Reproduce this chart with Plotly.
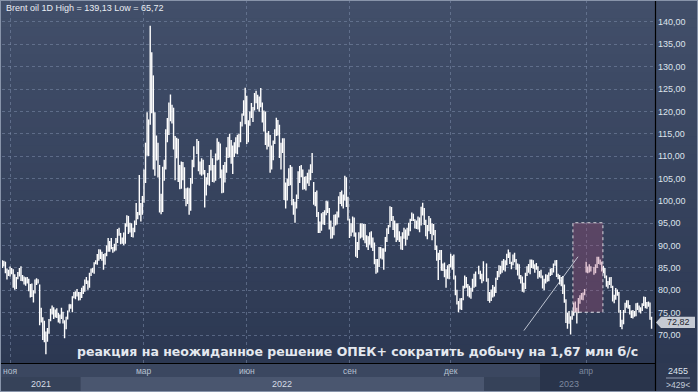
import plotly.graph_objects as go
import pandas as pd

# ---------------- data (Brent, daily OHLC) ----------------
open_ = [
    85.5, 86.0, 86.3, 84.5, 84.3,
    84.0, 84.7, 84.6, 81.4, 80.8, 82.9, 83.5, 84.8, 82.5, 82.9, 82.0, 82.1, 82.3, 80.3, 81.2, 79.0, 79.6, 82.3, 82.3, 81.2, 73.8, 73.1,
    70.5, 68.8, 70.1, 70.5, 73.3, 75.4, 75.8, 74.4, 75.3, 74.5, 73.7, 74.0, 75.0, 72.6, 71.8, 73.9, 75.5, 76.8, 76.0, 78.7, 78.8, 79.3, 79.3,
    78.0, 79.0, 80.1, 80.6, 82.1, 81.7, 80.9, 83.7, 84.6, 84.4, 86.2, 86.5, 87.5, 88.4, 88.4, 87.9, 86.1, 88.3, 90.0, 89.4, 90.0,
    89.3, 89.2, 89.5, 91.1, 93.3, 92.7, 90.8, 91.6, 91.4, 94.5, 96.5, 93.3, 94.8, 93.0, 93.5, 95.4, 96.8, 97.0, 99.1, 98.0,
    101.0, 105.0, 112.9, 110.5, 118.1, 123.2, 128.0, 111.1, 109.3, 112.7, 106.9, 99.9, 98.0, 106.6, 107.9, 115.6, 115.5, 121.6, 119.0, 120.7, 112.5, 110.2, 113.5,
    107.9, 104.4, 107.5, 106.6, 101.1, 100.6, 102.8, 98.5, 104.6, 108.8, 111.7, 113.2, 107.3, 106.8, 108.3, 106.7, 102.3, 105.0, 105.3, 107.6,
    109.3, 107.6, 105.0, 110.1, 111.9, 112.4, 105.9, 102.5, 107.5, 107.5, 111.6, 114.2, 111.9, 109.1, 112.0, 112.6, 113.4, 113.6, 114.0, 117.4, 119.4, 121.7,
    122.8, 116.3, 117.6, 119.7, 119.5, 120.6, 123.6, 123.1, 122.0, 122.3, 121.2, 118.5, 119.8, 113.1, 114.1, 114.7, 111.7, 110.1, 113.1, 115.1, 118.0, 116.3,
    109.0, 111.6, 113.5, 102.8, 100.7, 104.6, 107.0, 107.1, 99.5, 99.6, 99.1, 101.2, 106.3, 107.4, 106.9, 103.9, 103.2, 105.2, 104.4, 106.6, 107.1,
    103.9, 100.0, 100.5, 96.8, 94.1, 94.9, 96.7, 96.3, 97.4, 99.6, 98.2, 95.1, 92.3, 93.7, 96.6, 96.7, 96.5, 100.2, 101.2, 99.3, 101.0, 105.1, 99.3,
    94.5, 92.4, 93.0, 95.7, 92.8, 88.0, 89.2, 92.8, 94.0, 93.2, 94.1, 90.8, 91.4, 92.0, 90.6, 89.8, 90.5, 86.2, 84.1, 86.3, 89.3, 88.5,
    85.2, 88.9, 91.8, 93.4, 94.4, 97.9, 96.2, 94.3, 92.5, 94.6, 91.6, 91.6, 90.0, 92.4, 92.4, 93.5, 93.3, 93.5, 95.7, 97.0, 95.8,
    94.8, 94.7, 96.2, 94.7, 98.6, 97.9, 95.4, 92.7, 93.7, 96.0, 93.1, 93.9, 92.9, 89.8, 87.6, 87.5, 88.4, 85.4, 85.3, 83.6, 83.2, 83.0,
    85.4, 86.9, 85.6, 82.7, 79.4, 77.2, 76.2, 76.1, 78.0, 80.7, 82.7, 81.2, 79.0, 79.8, 80.0, 82.2, 81.0, 83.9, 84.3, 83.3, 82.3,
    85.9, 82.1, 77.8, 78.7, 78.6, 79.7, 80.1, 82.7, 84.0, 85.3, 84.5, 85.9, 85.0, 86.2, 87.6, 88.2, 86.1, 86.1, 87.5, 86.7, 84.9,
    85.5, 82.8, 82.2, 79.9, 81.0, 83.7, 85.1, 84.5, 86.4, 86.6, 85.6, 85.4, 85.1, 83.0, 84.1, 83.1, 80.6, 82.2, 83.2, 82.5,
    83.9, 84.3, 84.8, 85.8, 86.2, 83.3, 82.7, 81.6, 82.8, 80.8, 77.5, 73.7, 74.7, 73.0, 73.8, 75.3, 76.7, 75.9, 75.0, 78.1, 78.7, 78.3, 79.3,
    85.0, 84.9, 84.9, 85.0, 85.1, 84.2, 85.6, 87.3, 86.1, 86.3, 84.8, 84.8, 83.1, 81.1, 81.7, 82.7, 80.8, 77.7, 78.4,
    79.5, 79.3, 75.3, 72.3, 72.5, 75.3, 77.0, 77.4, 76.4, 75.0, 74.2, 75.2, 74.9, 77.0, 75.9, 75.6, 76.0, 76.8, 78.4, 76.3, 77.0, 77.1, 73.5,
]
high = [
    86.7, 86.6, 86.4, 84.9, 84.6,
    85.3, 85.0, 84.7, 83.6, 83.0, 84.1, 85.0, 85.4, 83.4, 83.1, 82.9, 83.0, 82.6, 81.4, 81.5, 80.0, 82.4, 82.7, 82.5, 81.3, 76.1, 74.0,
    73.2, 70.8, 71.6, 73.6, 75.9, 76.6, 76.2, 75.7, 76.0, 74.9, 74.6, 76.1, 75.2, 73.3, 74.1, 75.5, 76.9, 76.9, 78.7, 79.6, 79.8, 80.3, 79.6,
    79.6, 80.6, 81.0, 82.4, 83.0, 82.2, 83.9, 84.9, 85.0, 86.3, 86.7, 88.1, 89.2, 89.1, 88.6, 88.1, 88.3, 90.0, 91.7, 91.0, 91.7,
    89.7, 90.4, 91.7, 93.7, 94.0, 92.8, 91.8, 92.9, 95.0, 96.8, 96.6, 95.1, 95.0, 94.0, 95.6, 99.5, 97.5, 105.8, 99.5, 101.1,
    107.0, 113.0, 119.8, 118.2, 139.13, 133.2, 128.0, 119.8, 114.6, 113.0, 108.0, 101.6, 107.6, 109.2, 116.0, 118.5, 122.0, 123.8, 121.5, 120.8, 114.5, 114.1, 113.9,
    108.0, 108.8, 108.7, 107.5, 102.8, 103.0, 102.8, 105.1, 109.2, 112.2, 113.8, 113.4, 108.8, 109.5, 109.2, 106.9, 105.3, 106.2, 108.0, 111.4,
    109.5, 108.0, 110.6, 114.0, 113.2, 112.8, 107.0, 108.0, 108.7, 112.0, 114.3, 115.0, 113.6, 112.4, 113.1, 114.2, 114.8, 115.0, 117.7, 119.5, 122.5, 125.3,
    123.5, 118.0, 120.0, 121.9, 121.0, 124.1, 124.6, 123.7, 123.3, 125.2, 122.0, 120.2, 120.0, 115.2, 115.6, 114.7, 112.4, 113.5, 116.0, 118.6, 118.1, 117.0,
    113.0, 114.0, 114.0, 104.1, 105.0, 107.3, 108.0, 107.6, 100.4, 99.8, 101.4, 106.6, 107.8, 108.0, 107.0, 105.4, 105.5, 106.3, 107.0, 108.2, 110.7,
    104.2, 102.0, 102.3, 97.5, 95.4, 97.2, 97.5, 97.9, 100.0, 99.9, 98.4, 95.6, 94.2, 96.9, 97.0, 97.6, 101.0, 102.0, 102.3, 101.4, 105.6, 105.3, 100.9,
    96.0, 95.0, 96.5, 96.3, 92.9, 90.8, 93.0, 95.0, 95.0, 94.8, 94.8, 92.3, 92.1, 93.0, 93.2, 91.8, 90.7, 87.0, 87.0, 89.7, 89.7, 89.4,
    89.4, 91.9, 93.9, 94.6, 98.8, 98.6, 96.6, 95.6, 95.0, 95.0, 93.2, 92.1, 93.0, 94.0, 93.6, 94.0, 95.1, 96.0, 97.4, 97.1, 95.9,
    95.6, 96.5, 96.3, 98.7, 99.6, 98.4, 95.8, 94.6, 96.6, 96.1, 95.0, 94.8, 93.5, 90.0, 88.4, 89.0, 89.0, 86.0, 86.2, 84.7, 85.6, 85.9,
    88.2, 87.7, 88.0, 83.3, 80.1, 77.6, 78.2, 78.3, 81.0, 83.3, 83.0, 81.4, 81.0, 80.6, 82.6, 83.7, 84.2, 85.5, 84.4, 83.7, 86.5,
    86.0, 82.7, 79.6, 80.2, 81.2, 80.8, 82.8, 84.3, 85.6, 85.5, 86.6, 87.0, 86.7, 88.2, 89.1, 88.5, 86.4, 88.0, 88.4, 87.0, 86.0,
    85.8, 83.4, 83.1, 81.7, 83.9, 85.4, 85.9, 86.9, 86.9, 86.7, 85.8, 86.1, 85.4, 84.3, 84.6, 83.3, 82.6, 83.6, 83.5, 84.0,
    84.9, 85.0, 86.0, 86.7, 86.8, 83.7, 83.4, 83.0, 83.2, 81.3, 78.0, 75.0, 75.4, 74.2, 75.5, 77.2, 77.5, 76.1, 78.3, 78.9, 79.4, 79.5, 80.3,
    86.4, 85.3, 85.8, 85.4, 85.2, 85.8, 87.5, 87.5, 86.9, 86.4, 85.5, 85.0, 83.3, 82.1, 82.9, 83.0, 81.0, 79.0, 80.5,
    80.2, 79.6, 75.6, 73.4, 75.6, 77.2, 77.8, 77.8, 76.7, 75.5, 75.6, 75.4, 77.1, 77.2, 76.6, 76.2, 77.1, 78.6, 78.5, 77.4, 77.5, 77.3, 74.1,
]
low = [
    85.0, 85.3, 83.8, 82.4, 83.2,
    83.1, 83.6, 80.6, 80.1, 80.3, 82.5, 83.1, 82.1, 82.0, 81.3, 81.0, 81.5, 79.8, 78.4, 78.5, 77.3, 79.3, 81.2, 81.5, 72.2, 72.8, 68.9,
    68.4, 65.72, 68.5, 70.3, 73.1, 74.6, 73.6, 73.9, 73.8, 72.8, 72.6, 73.6, 72.6, 69.3, 71.3, 73.5, 75.2, 75.9, 75.1, 78.2, 78.0, 78.6, 77.7,
    77.8, 78.3, 79.2, 79.7, 81.4, 80.1, 80.6, 83.2, 83.9, 83.7, 85.8, 85.7, 86.6, 87.0, 86.6, 84.6, 85.7, 87.6, 88.6, 88.6, 89.2,
    88.4, 88.7, 88.9, 90.6, 92.2, 90.3, 90.4, 90.1, 90.4, 94.2, 92.6, 92.9, 91.9, 91.8, 93.0, 94.6, 95.9, 96.8, 95.4, 96.9,
    99.6, 104.0, 110.1, 110.0, 117.0, 119.6, 107.0, 105.6, 109.0, 105.2, 97.4, 97.0, 97.5, 104.5, 107.0, 113.1, 114.7, 117.8, 117.3, 111.5, 104.6, 109.5, 104.2,
    102.6, 102.7, 104.6, 100.4, 98.8, 99.3, 96.9, 97.8, 103.8, 107.5, 110.5, 106.6, 105.9, 105.6, 105.9, 98.5, 101.2, 103.6, 103.4, 106.8,
    104.2, 104.1, 104.5, 109.0, 109.2, 105.1, 101.7, 101.8, 104.1, 106.3, 109.6, 109.7, 108.3, 106.0, 109.8, 110.6, 110.4, 112.0, 113.1, 116.6, 119.0, 117.1,
    112.7, 113.1, 116.8, 118.5, 117.6, 120.2, 121.8, 120.5, 119.9, 120.9, 117.5, 115.5, 112.5, 111.5, 112.1, 106.3, 107.0, 109.1, 112.7, 114.5, 114.6, 109.6,
    107.0, 110.7, 100.2, 98.3, 100.1, 103.3, 103.5, 99.0, 96.9, 95.1, 98.3, 100.4, 104.0, 105.3, 102.5, 102.6, 102.3, 103.9, 103.3, 104.6, 106.2,
    99.1, 98.8, 96.4, 92.8, 92.8, 93.3, 94.7, 94.6, 96.8, 97.3, 93.6, 91.5, 91.6, 92.3, 94.5, 94.7, 96.3, 99.3, 98.8, 98.3, 100.1, 98.6, 95.6,
    91.7, 92.1, 92.9, 92.0, 87.5, 87.2, 89.0, 91.6, 91.8, 91.2, 90.5, 89.6, 89.0, 90.2, 89.5, 88.8, 85.8, 83.7, 84.0, 85.2, 87.1, 86.9,
    84.6, 88.6, 90.8, 92.6, 94.1, 95.5, 93.5, 91.8, 90.8, 91.2, 90.8, 89.1, 89.0, 91.5, 90.0, 91.3, 92.2, 93.2, 95.5, 95.5, 93.8,
    93.7, 93.6, 93.0, 94.5, 96.7, 94.6, 92.1, 91.4, 93.2, 92.6, 91.2, 92.3, 89.0, 86.6, 82.3, 86.8, 84.4, 84.3, 82.9, 80.6, 82.6, 82.5,
    85.1, 84.6, 82.4, 78.9, 76.8, 75.1, 75.7, 75.6, 77.8, 80.4, 80.6, 78.7, 78.4, 78.1, 79.7, 80.6, 80.8, 83.6, 82.5, 81.6, 82.0,
    81.9, 77.6, 77.2, 77.6, 78.4, 78.6, 79.4, 82.3, 82.9, 83.6, 83.9, 84.5, 84.2, 85.6, 87.2, 85.9, 84.7, 85.6, 86.3, 84.6, 83.3,
    82.5, 81.5, 79.7, 79.5, 80.3, 83.2, 83.9, 83.6, 85.0, 84.8, 83.9, 84.6, 82.6, 82.9, 82.7, 80.4, 80.0, 81.5, 81.9, 82.0,
    83.2, 83.4, 84.0, 85.5, 83.0, 82.5, 81.3, 80.9, 79.2, 77.2, 72.7, 71.4, 72.5, 70.1, 73.4, 74.3, 75.1, 72.6, 74.9, 77.0, 77.9, 77.8, 78.9,
    84.0, 83.8, 84.0, 84.2, 83.5, 83.8, 85.0, 85.9, 85.7, 84.2, 83.8, 82.7, 80.8, 80.4, 81.2, 80.5, 77.5, 77.1, 77.9,
    78.8, 75.0, 71.8, 71.3, 72.4, 74.9, 76.1, 75.9, 74.6, 73.8, 73.7, 74.1, 74.2, 75.6, 75.1, 74.8, 75.4, 76.5, 76.0, 75.9, 76.3, 73.4, 71.4,
]
close = [
    86.0, 86.4, 84.6, 84.3, 84.4,
    84.7, 84.7, 81.0, 80.5, 82.7, 83.4, 84.8, 82.6, 82.9, 82.2, 82.1, 82.4, 80.3, 81.2, 78.9, 79.7, 82.3, 82.3, 82.2, 72.7, 73.4, 70.6,
    68.9, 69.7, 69.9, 73.1, 75.4, 75.8, 74.4, 75.2, 74.4, 73.7, 73.9, 75.0, 73.5, 71.5, 74.0, 75.3, 76.9, 76.1, 78.6, 78.9, 79.2, 79.3, 77.8,
    79.0, 80.0, 80.8, 82.0, 81.8, 80.9, 83.7, 84.7, 84.5, 86.1, 86.5, 87.5, 88.4, 88.4, 87.9, 86.3, 88.2, 90.0, 89.3, 90.0, 91.2,
    89.2, 89.5, 91.1, 93.3, 92.7, 90.8, 91.6, 91.4, 94.4, 96.5, 93.3, 94.8, 93.0, 93.5, 95.4, 96.8, 96.8, 99.1, 97.9, 101.0,
    105.0, 112.9, 110.5, 118.1, 123.2, 128.0, 111.1, 109.3, 112.7, 106.9, 99.9, 98.0, 106.6, 107.9, 115.6, 115.5, 121.6, 119.0, 120.7, 112.5, 110.2, 113.5, 107.9,
    104.4, 107.5, 106.6, 101.1, 100.6, 102.8, 98.5, 104.6, 108.8, 111.7, 113.2, 107.3, 106.8, 108.3, 106.7, 102.3, 105.0, 105.3, 107.6, 109.3,
    107.6, 105.0, 110.1, 111.9, 112.4, 105.9, 102.5, 107.5, 107.5, 111.6, 114.2, 111.9, 109.1, 112.0, 112.6, 113.4, 113.6, 114.0, 117.4, 119.4, 121.7, 122.8,
    116.3, 117.6, 119.7, 119.5, 120.6, 123.6, 123.1, 122.0, 122.3, 121.2, 118.5, 119.8, 113.1, 114.1, 114.7, 111.7, 110.1, 113.1, 115.1, 118.0, 116.3, 114.8,
    111.6, 113.5, 102.8, 100.7, 104.6, 107.0, 107.1, 99.5, 99.6, 99.1, 101.2, 106.3, 107.4, 106.9, 103.9, 103.2, 105.2, 104.4, 106.6, 107.1, 110.0,
    100.0, 100.5, 96.8, 94.1, 94.9, 96.7, 96.3, 97.4, 99.6, 98.2, 95.1, 92.3, 93.7, 96.6, 96.7, 96.5, 100.2, 101.2, 99.3, 101.0, 105.1, 99.3, 96.5,
    92.4, 93.0, 95.7, 92.8, 88.0, 89.2, 92.8, 94.0, 93.2, 94.1, 90.8, 91.4, 92.0, 90.6, 89.8, 90.5, 86.2, 84.1, 86.3, 89.3, 88.5, 88.0,
    88.9, 91.8, 93.4, 94.4, 97.9, 96.2, 94.3, 92.5, 94.6, 91.6, 91.6, 90.0, 92.4, 92.4, 93.5, 93.3, 93.5, 95.7, 97.0, 95.8, 94.8,
    94.7, 96.2, 94.7, 98.6, 97.9, 95.4, 92.7, 93.7, 96.0, 93.1, 93.9, 92.9, 89.8, 87.6, 87.5, 88.4, 85.4, 85.3, 83.6, 83.2, 83.0, 85.4,
    86.9, 85.6, 82.7, 79.4, 77.2, 76.2, 76.1, 78.0, 80.7, 82.7, 81.2, 79.0, 79.8, 80.0, 82.2, 81.0, 83.9, 84.3, 83.3, 82.3, 85.9,
    82.1, 77.8, 78.7, 78.6, 79.7, 80.1, 82.7, 84.0, 85.3, 84.5, 85.9, 85.0, 86.2, 87.6, 88.2, 86.1, 86.1, 87.5, 86.7, 84.9, 85.5,
    82.8, 82.2, 79.9, 81.0, 83.7, 85.1, 84.5, 86.4, 86.6, 85.6, 85.4, 85.1, 83.0, 84.1, 83.1, 80.6, 82.2, 83.2, 82.5, 83.9,
    84.3, 84.8, 85.8, 86.2, 83.3, 82.7, 81.6, 82.8, 80.8, 77.5, 73.7, 74.7, 73.0, 73.8, 75.3, 76.7, 75.9, 75.0, 78.1, 78.7, 78.3, 79.3, 79.8,
    84.9, 84.9, 85.0, 85.1, 84.2, 85.6, 87.3, 86.1, 86.3, 84.8, 84.8, 83.1, 81.1, 81.7, 82.7, 80.8, 77.7, 78.4, 79.5,
    79.3, 75.3, 72.3, 72.5, 75.3, 77.0, 77.4, 76.4, 75.0, 74.2, 75.2, 74.9, 77.0, 75.9, 75.6, 76.0, 76.8, 78.4, 76.3, 77.0, 77.1, 73.5, 72.82,
]

holidays = ["2022-04-15", "2022-12-26", "2023-01-02", "2023-04-07"]
dates = [d for d in pd.bdate_range("2021-10-25", "2023-05-31") if d.strftime("%Y-%m-%d") not in holidays]
assert len(dates) == len(open_) == len(high) == len(low) == len(close), (len(dates), len(open_), len(high), len(low), len(close))

y_ticks = [70, 75, 80, 85, 90, 95, 100, 105, 110, 115, 120, 125, 130, 135, 140]
month_ticks = ["2021-11-01", "2022-03-01", "2022-06-01", "2022-09-01", "2022-12-01", "2023-04-03"]
month_labels = ["ноя", "мар", "июн", "сен", "дек", "апр"]
year_labels = ["2021", "2022", "2023"]
volume_text = "2455"
bars_text = ">429<"
note_text = "реакция на неожиданное решение ОПЕК+ сократить добычу на 1,67 млн б/с"
box_x = ["2023-03-21 12:00", "2023-04-17 18:00"]
box_y = [75.1, 95.1]
line_x = ["2023-02-06", "2023-03-24 18:00"]
line_y = [71.0, 87.5]

def fmt(v):
    return f"{v:.2f}".replace(".", ",")

title_text = f"Brent oil 1D High = {fmt(max(high))} Low = {fmt(min(low))}"

# ---------------- geometry helpers (pixels -> paper) ----------------
PL, PR, PB = 2, 655, 363
def px(x):
    return (x - PL) / (PR - PL)
def py(y):
    return (PB - y) / PB

fig = go.Figure(go.Ohlc(
    x=dates, open=open_, high=high, low=low, close=close,
    increasing=dict(line=dict(color="#ffffff", width=1.4)),
    decreasing=dict(line=dict(color="#ffffff", width=1.4)),
    tickwidth=0.2, hoverinfo="skip", showlegend=False,
))

shapes = []
# vertical gradient background
top_c = (66, 79, 106)
bot_c = (44, 56, 82)
n = 40
for i in range(n):
    y0 = PB * i / n
    y1 = PB * (i + 1) / n
    t = (i + 0.5) / n
    c = tuple(round(top_c[k] + (bot_c[k] - top_c[k]) * t) for k in range(3))
    shapes.append(dict(type="rect", xref="paper", yref="paper", x0=px(-5), x1=px(705),
                       y0=py(y1 + 0.6), y1=py(y0), fillcolor="rgb(%d,%d,%d)" % c,
                       line=dict(width=0), layer="below"))
# bottom axis area
def prect(x0, x1, y0, y1, color, layer="below"):
    return dict(type="rect", xref="paper", yref="paper", x0=px(x0), x1=px(x1),
                y0=py(y1), y1=py(y0), fillcolor=color, line=dict(width=0), layer=layer)

shapes.append(prect(-5, 705, 363, 395, "#2e3952"))
shapes.append(prect(0, 655, 363, 377, "#3b4760"))
shapes.append(prect(0, 80.5, 377, 391, "#364259"))
shapes.append(prect(80.5, 484, 377, 391, "#4a566f"))
shapes.append(prect(484, 655, 377, 391, "#364259"))
shapes.append(prect(540, 655, 363, 391, "#29344b"))
# separator lines
shapes.append(dict(type="line", xref="paper", yref="paper", x0=px(655.5), x1=px(655.5),
                   y0=py(395), y1=py(-2), line=dict(color="#000000", width=1.2), layer="above"))
shapes.append(dict(type="line", xref="paper", yref="paper", x0=px(0), x1=px(655.5),
                   y0=py(363.5), y1=py(363.5), line=dict(color="#000000", width=1.2), layer="above"))
# small line between the two counters
shapes.append(dict(type="line", xref="paper", yref="paper", x0=px(666), x1=px(690),
                   y0=py(378), y1=py(378), line=dict(color="#8f9bb0", width=1), layer="above"))
# highlighted box and the line pointing to it
shapes.append(dict(type="rect", xref="x", yref="y", x0=box_x[0], x1=box_x[1], y0=box_y[0], y1=box_y[1],
                   fillcolor="rgba(170,80,120,0.32)",
                   line=dict(color="rgba(235,235,240,0.9)", width=1, dash="dot"), layer="above"))
shapes.append(dict(type="line", xref="x", yref="y", x0=line_x[0], x1=line_x[1], y0=line_y[0], y1=line_y[1],
                   line=dict(color="rgba(215,220,230,0.85)", width=1), layer="above"))
# last price marker
last = close[-1]
shapes.append(dict(type="path", xref="paper", yref="y",
                   path=f"M {px(656)},{last} L {px(661)},{last + 1.25} L {px(695)},{last + 1.25} "
                        f"L {px(695)},{last - 1.25} L {px(661)},{last - 1.25} Z",
                   fillcolor="#c6cbd4", line=dict(width=0), layer="above"))
# outer frame
shapes.append(dict(type="rect", xref="paper", yref="paper", x0=px(0), x1=px(698), y0=py(392), y1=py(0),
                   line=dict(color="#8894aa", width=2), fillcolor="rgba(0,0,0,0)", layer="above"))

annotations = []
annotations.append(dict(text=title_text, xref="paper", yref="paper", x=px(4), y=py(8),
                        xanchor="left", yanchor="middle", showarrow=False,
                        font=dict(family="Liberation Sans, Arial, sans-serif", size=9, color="#e9edf3")))
for i, (d, lab) in enumerate(zip(month_ticks, month_labels)):
    annotations.append(dict(text=lab, xref="x", yref="paper", x=d, y=py(371), xanchor="center",
                            yanchor="middle", showarrow=False,
                            font=dict(family="Liberation Sans, Arial, sans-serif", size=8.5,
                                      color="#7d889e" if i == len(month_labels) - 1 else "#b7c1d1")))
for lab, xp, col in zip(year_labels, [41, 282, 569], ["#d5dbe5", "#d5dbe5", "#7d889e"]):
    annotations.append(dict(text=lab, xref="paper", yref="paper", x=px(xp), y=py(384), xanchor="center",
                            yanchor="middle", showarrow=False,
                            font=dict(family="Liberation Sans, Arial, sans-serif", size=9, color=col)))
annotations.append(dict(text=note_text, xref="paper", yref="paper", x=px(357), y=py(351.5),
                        xanchor="center", yanchor="middle", showarrow=False,
                        font=dict(family="DejaVu Sans, sans-serif", size=12.5, color="#e4e8ef", weight="bold")))
annotations.append(dict(text=fmt(last), xref="paper", yref="y", x=px(678), y=last,
                        xanchor="center", yanchor="middle", showarrow=False,
                        font=dict(family="Liberation Sans, Arial, sans-serif", size=9, color="#1e2430")))
annotations.append(dict(text=volume_text, xref="paper", yref="paper", x=px(678), y=py(371),
                        xanchor="center", yanchor="middle", showarrow=False,
                        font=dict(family="Liberation Sans, Arial, sans-serif", size=9, color="#dde3ec")))
annotations.append(dict(text=bars_text, xref="paper", yref="paper", x=px(678), y=py(385),
                        xanchor="center", yanchor="middle", showarrow=False,
                        font=dict(family="Liberation Sans, Arial, sans-serif", size=8.5, color="#c3cbd8")))

grid_col = "rgba(130,146,175,0.5)"
fig.update_layout(
    width=698, height=392,
    margin=dict(l=PL, r=698 - PR, t=0, b=392 - PB),
    paper_bgcolor="#38445e", plot_bgcolor="rgba(0,0,0,0)",
    separators=", ", showlegend=False,
    font=dict(family="Liberation Sans, Arial, sans-serif", size=9, color="#dde3ec"),
    shapes=shapes, annotations=annotations,
    xaxis=dict(type="date", range=["2021-10-22 19:30", "2023-06-02 05:00"],
               rangebreaks=[dict(bounds=["sat", "mon"])],
               rangeslider=dict(visible=False),
               tickvals=month_ticks, showticklabels=False, ticks="",
               showgrid=True, gridcolor=grid_col, griddash="3px,3px", gridwidth=1,
               zeroline=False, showline=False, fixedrange=True),
    yaxis=dict(side="right", range=[63.75, 144.9], tickvals=y_ticks, tickformat=".2f",
               showgrid=True, gridcolor=grid_col, griddash="3px,3px", gridwidth=1,
               ticks="", ticklabelstandoff=2, zeroline=False, showline=False,
               tickfont=dict(family="Liberation Sans, Arial, sans-serif", size=9, color="#dde3ec"),
               fixedrange=True),
)

fig.write_html("out.html")
